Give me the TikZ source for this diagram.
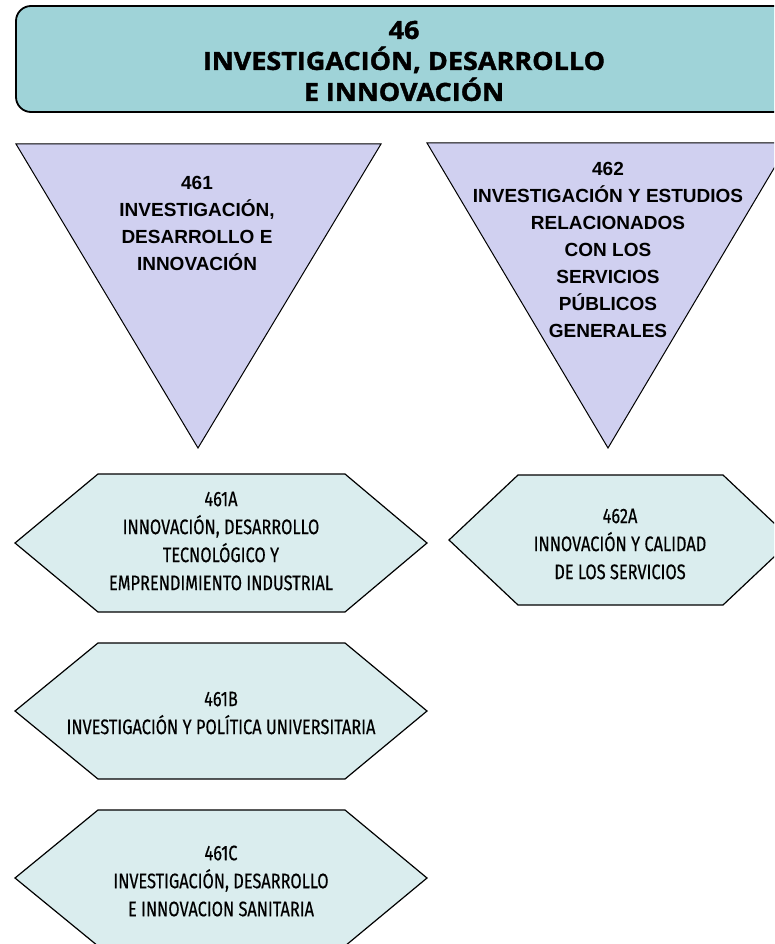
\documentclass[tikz,border=0pt]{standalone}
\usepackage{fontspec}
\setmainfont{Liberation Sans}
\newfontfamily\headfont[FakeStretch=1.08,BoldFeatures={FakeBold=1.5}]{Open Sans}
\newfontfamily\hexfont[FakeStretch=0.78,FakeBold=0.4]{Fira Sans}
\definecolor{headfill}{RGB}{159,211,216}
\definecolor{trifill}{RGB}{208,208,240}
\definecolor{hexfill}{RGB}{218,237,238}

\begin{document}
\begin{tikzpicture}[x = 1pt, y = -1pt,
    head/.style = {draw, line width = 1.8pt, fill = headfill, rounded corners = 15pt},
    tri/.style = {draw, line width = 1pt, fill = trifill},
    hex/.style = {draw, line width = 1.2pt, fill = hexfill},
    headtext/.style = {align = center, font = \headfont\bfseries\fontsize{25}{31}\selectfont},
    tritext/.style = {align = center, font = \bfseries\fontsize{19}{27}\selectfont},
    hextext/.style = {align = center, font = \hexfont\fontsize{21}{28}\selectfont}]
    \clip (0,0) rectangle (774,944);
    \draw[head] (16,6) rectangle (800,112);
    \draw (404,61) node[headtext](H46){46\\INVESTIGACIÓN, DESARROLLO\\E INNOVACIÓN};

    \draw[tri] (16,144) -- (381,144) -- (198,448) -- cycle;
    \draw (197,223) node[tritext](T461){461\\INVESTIGACIÓN,\\DESARROLLO E\\INNOVACIÓN};
    \draw[tri] (427,143) -- (789,143) -- (608,448) -- cycle;
    \draw (608,250) node[tritext](T462){462\\INVESTIGACIÓN Y ESTUDIOS\\RELACIONADOS\\CON LOS\\SERVICIOS\\PÚBLICOS\\GENERALES};

    \draw[hex] (15,543) -- ++(83,-69) -- ++(247,0) -- ++(82,69) -- ++(-82,69) -- ++(-247,0) -- cycle;
    \draw (221,541) node[hextext](P461A){461A\\INNOVACIÓN, DESARROLLO\\TECNOLÓGICO Y\\EMPRENDIMIENTO INDUSTRIAL};
    \draw[hex] (449,540) -- ++(69,-65) -- ++(205,0) -- ++(69,65) -- ++(-69,65) -- ++(-205,0) -- cycle;
    \draw (620,544) node[hextext](P462A){462A\\INNOVACIÓN Y CALIDAD\\DE LOS SERVICIOS};
    \draw[hex] (15,711) -- ++(83,-68) -- ++(247,0) -- ++(82,68) -- ++(-82,68) -- ++(-247,0) -- cycle;
    \draw (221,713) node[hextext](P461B){461B\\INVESTIGACIÓN Y POLÍTICA UNIVERSITARIA};
    \draw[hex] (15,878) -- ++(83,-68) -- ++(247,0) -- ++(82,68) -- ++(-82,68) -- ++(-247,0) -- cycle;
    \draw (221,881) node[hextext](P461C){461C\\INVESTIGACIÓN, DESARROLLO\\E INNOVACION SANITARIA};
\end{tikzpicture}
\end{document}
